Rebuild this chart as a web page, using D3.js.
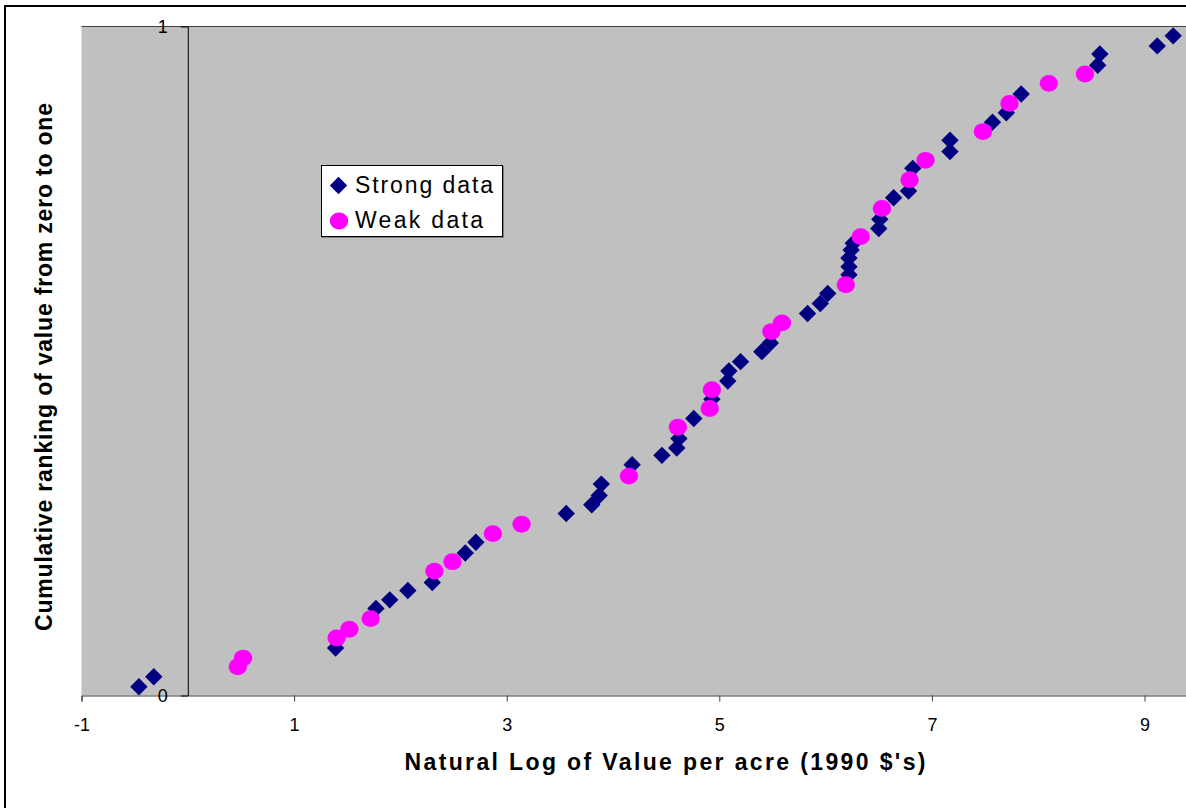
<!DOCTYPE html>
<html>
<head>
<meta charset="utf-8">
<script src="https://cdn.jsdelivr.net/npm/d3@7"></script>
<style>
  html, body { margin: 0; padding: 0; background: #ffffff; }
  svg { display: block; }
  text { font-family: "Liberation Sans", Arial, sans-serif; }
</style>
</head>
<body>
<svg id="chart" width="1186" height="808"></svg>
<script>
// ---- data ----
const strongX = [-0.46, -0.32, 1.39, 1.77, 1.90, 2.07, 2.30, 2.61, 2.71, 3.56, 3.80, 3.87, 3.89,
  4.18, 4.46, 4.60, 4.62, 4.76, 4.93, 5.08, 5.09, 5.20, 5.40, 5.48, 5.83, 5.95, 6.02,
  6.22, 6.22, 6.22, 6.24, 6.26, 6.50, 6.51, 6.64, 6.78, 6.82, 7.17, 7.17, 7.57, 7.70, 7.84,
  8.56, 8.58, 9.12, 9.27];
const strongY = [0.013, 0.028, 0.071, 0.130, 0.143, 0.157, 0.169, 0.213, 0.229, 0.272, 0.285, 0.299, 0.316,
  0.345, 0.359, 0.370, 0.384, 0.414, 0.443, 0.470, 0.485, 0.499, 0.514, 0.527, 0.571, 0.586, 0.601,
  0.629, 0.641, 0.654, 0.666, 0.676, 0.698, 0.712, 0.744, 0.754, 0.788, 0.813, 0.830, 0.857, 0.871, 0.899,
  0.942, 0.959, 0.971, 0.986];
const weakX = [0.47, 0.52, 1.40, 1.52, 1.72, 2.32, 2.49, 2.87, 3.14, 4.15, 4.61, 4.91, 4.93,
  5.49, 5.59, 6.19, 6.33, 6.53, 6.79, 6.94, 7.48, 7.73, 8.10, 8.44];
const weakY = [0.043, 0.056, 0.086, 0.099, 0.115, 0.186, 0.200, 0.242, 0.256, 0.328, 0.401, 0.429, 0.457,
  0.544, 0.557, 0.614, 0.686, 0.728, 0.771, 0.800, 0.843, 0.885, 0.915, 0.929];
const xTicks = [-1, 1, 3, 5, 7, 9];
const yTicks = [0, 1];
const seriesNames = ["Strong data", "Weak data"];
const xTitle = "Natural Log of Value per acre (1990 $'s)";
const yTitle = "Cumulative ranking of value from zero to one";

// ---- layout ----
const svg = d3.select("#chart");
const W = 1186, H = 808;
const plotL = 81.5, plotT = 26.5, plotB = 695.5;
const x = d3.scaleLinear().domain([-1, 10]).range([plotL, plotL + 11 * 106.3]);
const y = d3.scaleLinear().domain([0, 1]).range([plotB, plotT]);
const fmt = d => String(d);

// outer chart border
svg.append("rect").attr("x", 5).attr("y", 6).attr("width", W + 20).attr("height", H + 20)
  .attr("fill", "#ffffff").attr("stroke", "#000000").attr("stroke-width", 2);

// plot area
svg.append("rect").attr("x", plotL).attr("y", plotT)
  .attr("width", x.range()[1] - plotL).attr("height", plotB - plotT)
  .attr("fill", "#c0c0c0");
svg.append("line").attr("x1", plotL).attr("x2", x.range()[1])
  .attr("y1", plotT).attr("y2", plotT).attr("stroke", "#404040").attr("stroke-width", 1);

// x axis
const xAxis = svg.append("g").attr("transform", `translate(0,${plotB})`)
  .call(d3.axisBottom(x).tickValues(xTicks).tickSize(6).tickPadding(17).tickFormat(fmt));
xAxis.select(".domain").attr("stroke", "#404040");
xAxis.selectAll(".tick line").attr("stroke", "#404040");
xAxis.selectAll(".tick text").attr("fill", "#000")
  .style("font-size", "18px").style("font-family", "'Liberation Sans', Arial, sans-serif");

// y axis at x = 0
const yAxis = svg.append("g").attr("transform", `translate(${x(0)},0)`)
  .call(d3.axisLeft(y).tickValues(yTicks).tickSize(7).tickPadding(13).tickSizeOuter(0).tickFormat(fmt));
yAxis.select(".domain").attr("stroke", "#000");
yAxis.selectAll(".tick line").attr("stroke", "#000");
yAxis.selectAll(".tick text").attr("fill", "#000")
  .style("font-size", "18px").style("font-family", "'Liberation Sans', Arial, sans-serif");

// points
const strong = strongX.map((v, i) => ({ x: v, y: strongY[i] }));
const weak = weakX.map((v, i) => ({ x: v, y: weakY[i] }));
const dh = 8.7;
const diamond = `M0,${-dh}L${dh},0L0,${dh}L${-dh},0Z`;

svg.append("g").selectAll("path").data(strong).join("path")
  .attr("d", diamond)
  .attr("transform", d => `translate(${x(d.x)},${y(d.y)})`)
  .attr("fill", "#000080");

svg.append("g").selectAll("ellipse").data(weak).join("ellipse")
  .attr("cx", d => x(d.x)).attr("cy", d => y(d.y))
  .attr("rx", 9.2).attr("ry", 8.4)
  .attr("fill", "#ff00ff");

// axis titles
svg.append("text").attr("x", 404.5).attr("y", 770)
  .attr("font-size", 23).attr("font-weight", "bold")
  .attr("textLength", 521).attr("lengthAdjust", "spacing")
  .text(xTitle);

svg.append("text")
  .attr("transform", "translate(52,631) rotate(-90)")
  .attr("font-size", 23).attr("font-weight", "bold")
  .attr("textLength", 528).attr("lengthAdjust", "spacing")
  .text(yTitle);

// legend
const lg = svg.append("g");
lg.append("rect").attr("x", 322).attr("y", 166).attr("width", 182).attr("height", 72).attr("fill", "#808080");
lg.append("rect").attr("x", 321.5).attr("y", 165.5).attr("width", 181).attr("height", 71)
  .attr("fill", "#ffffff").attr("stroke", "#000").attr("stroke-width", 1);
lg.append("path").attr("d", diamond).attr("transform", "translate(338.5,185.5)").attr("fill", "#000080");
lg.append("ellipse").attr("cx", 339).attr("cy", 221).attr("rx", 9.2).attr("ry", 8.4).attr("fill", "#ff00ff");
lg.append("text").attr("x", 355).attr("y", 193.3).attr("font-size", 23)
  .attr("textLength", 138).attr("lengthAdjust", "spacing").text(seriesNames[0]);
lg.append("text").attr("x", 355).attr("y", 227.5).attr("font-size", 23)
  .attr("textLength", 128).attr("lengthAdjust", "spacing").text(seriesNames[1]);
</script>
</body>
</html>
